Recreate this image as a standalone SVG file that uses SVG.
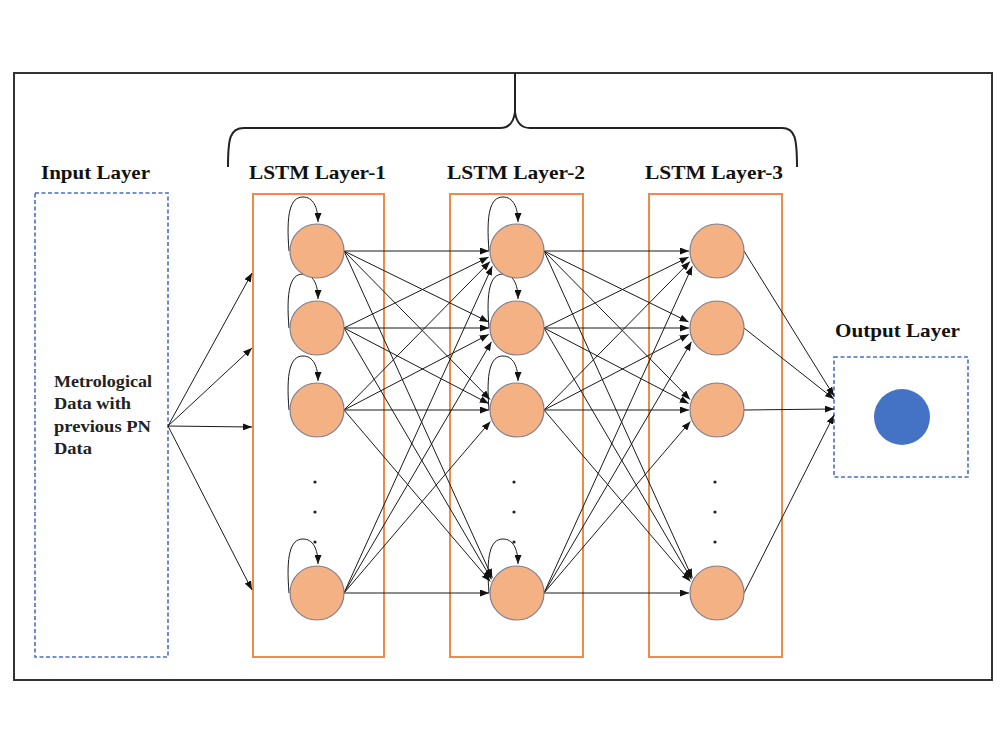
<svg xmlns="http://www.w3.org/2000/svg" width="1000" height="750" viewBox="0 0 1000 750">
<defs>
<marker id="ah" markerUnits="userSpaceOnUse" markerWidth="9" markerHeight="7" refX="9" refY="3.5" orient="auto">
<path d="M0,0 L9,3.5 L0,7 z" fill="#111"/>
</marker>
<style>
.lbl{font-family:"Liberation Serif","Times New Roman",serif;font-weight:bold;font-size:19px;fill:#111}
.txt{font-family:"Liberation Serif","Times New Roman",serif;font-weight:bold;font-size:16px;fill:#222}
.dash{fill:none;stroke:#4a6fc0;stroke-width:1.6;stroke-dasharray:4 2.5}
.layer{fill:none;stroke:#ed8b4a;stroke-width:2}
.node{fill:#f4b183;stroke:#7f7f8f;stroke-width:1.2}
.c{stroke:#1a1a1a;stroke-width:1;fill:none;marker-end:url(#ah)}
.dot{fill:#222}
</style>
</defs>
<rect width="1000" height="750" fill="#fff"/>
<rect x="14" y="73" width="978" height="607" fill="none" stroke="#333" stroke-width="2"/>
<g id="brace">
<path d="M228,167 C228,138 230,128 244,128 L500,128 Q513,128 515,112 L515,73 M515,112 Q517,128 530,128 L782,128 C795,128 797,138 797,167" fill="none" stroke="#222" stroke-width="2"/>
</g>
<g id="input-layer">
<text class="lbl" x="41" y="179" textLength="109" lengthAdjust="spacingAndGlyphs">Input Layer</text>
<rect class="dash" x="35" y="193" width="133" height="464"/>
<text class="txt" x="54" y="387" textLength="98" lengthAdjust="spacingAndGlyphs">Metrological</text>
<text class="txt" x="54" y="409" textLength="77" lengthAdjust="spacingAndGlyphs">Data with</text>
<text class="txt" x="54" y="432" textLength="97" lengthAdjust="spacingAndGlyphs">previous PN</text>
<text class="txt" x="54" y="454" textLength="38" lengthAdjust="spacingAndGlyphs">Data</text>
</g>
<g id="lstm-layer-1">
<text class="lbl" x="249" y="179" textLength="137" lengthAdjust="spacingAndGlyphs">LSTM Layer-1</text>
<rect class="layer" x="253" y="194" width="131" height="463"/>
</g>
<g id="lstm-layer-2">
<text class="lbl" x="447" y="179" textLength="138" lengthAdjust="spacingAndGlyphs">LSTM Layer-2</text>
<rect class="layer" x="450" y="194" width="133" height="463"/>
</g>
<g id="lstm-layer-3">
<text class="lbl" x="645" y="179" textLength="138" lengthAdjust="spacingAndGlyphs">LSTM Layer-3</text>
<rect class="layer" x="649" y="194" width="133" height="463"/>
</g>
<g id="output-layer">
<text class="lbl" x="835" y="337" textLength="125" lengthAdjust="spacingAndGlyphs">Output Layer</text>
<rect class="dash" x="834" y="357" width="134" height="120"/>
</g>
<g id="connectors">
<!-- input to L1 -->
<line class="c" x1="168" y1="426" x2="252" y2="273"/>
<line class="c" x1="168" y1="426" x2="252" y2="348"/>
<line class="c" x1="168" y1="426" x2="252" y2="427"/>
<line class="c" x1="168" y1="426" x2="252" y2="590"/>
<!-- self loops L1 -->
<path class="c" d="M289,251 C286,214 290,197 303,197 C313,197 318,207 318,222"/>
<path class="c" d="M289,328 C286,291 290,274 303,274 C313,274 318,284 318,299"/>
<path class="c" d="M289,410 C286,373 290,356 303,356 C313,356 318,366 318,381"/>
<path class="c" d="M289,593 C286,556 290,539 303,539 C313,539 318,549 318,564"/>
<!-- self loops L2 -->
<path class="c" d="M489,251 C486,214 490,197 503,197 C513,197 518,207 518,222"/>
<path class="c" d="M489,328 C486,291 490,274 503,274 C513,274 518,284 518,299"/>
<path class="c" d="M489,410 C486,373 490,356 503,356 C513,356 518,366 518,381"/>
<path class="c" d="M489,593 C486,556 490,539 503,539 C513,539 518,549 518,564"/>
<!-- L1 to L2 -->
<line class="c" x1="344" y1="251" x2="489" y2="251"/>
<line class="c" x1="344" y1="251" x2="488.6" y2="321.9"/>
<line class="c" x1="344" y1="251" x2="490" y2="399.4"/>
<line class="c" x1="344" y1="251" x2="492.3" y2="577.8"/>
<line class="c" x1="344" y1="328" x2="488.6" y2="257.1"/>
<line class="c" x1="344" y1="328" x2="489" y2="328"/>
<line class="c" x1="344" y1="328" x2="488.7" y2="403.6"/>
<line class="c" x1="344" y1="328" x2="491.5" y2="579.2"/>
<line class="c" x1="344" y1="410" x2="490" y2="261.6"/>
<line class="c" x1="344" y1="410" x2="488.7" y2="334.4"/>
<line class="c" x1="344" y1="410" x2="489" y2="410"/>
<line class="c" x1="344" y1="410" x2="490.4" y2="581.5"/>
<line class="c" x1="344" y1="593" x2="492.3" y2="266.2"/>
<line class="c" x1="344" y1="593" x2="491.5" y2="341.8"/>
<line class="c" x1="344" y1="593" x2="490.4" y2="421.5"/>
<line class="c" x1="344" y1="593" x2="489" y2="593"/>
<!-- L2 to L3 -->
<line class="c" x1="544" y1="251" x2="689" y2="251"/>
<line class="c" x1="544" y1="251" x2="688.6" y2="321.9"/>
<line class="c" x1="544" y1="251" x2="690" y2="399.4"/>
<line class="c" x1="544" y1="251" x2="692.3" y2="577.8"/>
<line class="c" x1="544" y1="328" x2="688.6" y2="257.1"/>
<line class="c" x1="544" y1="328" x2="689" y2="328"/>
<line class="c" x1="544" y1="328" x2="688.7" y2="403.6"/>
<line class="c" x1="544" y1="328" x2="691.5" y2="579.2"/>
<line class="c" x1="544" y1="410" x2="690" y2="261.6"/>
<line class="c" x1="544" y1="410" x2="688.7" y2="334.4"/>
<line class="c" x1="544" y1="410" x2="689" y2="410"/>
<line class="c" x1="544" y1="410" x2="690.4" y2="581.5"/>
<line class="c" x1="544" y1="593" x2="692.3" y2="266.2"/>
<line class="c" x1="544" y1="593" x2="691.5" y2="341.8"/>
<line class="c" x1="544" y1="593" x2="690.4" y2="421.5"/>
<line class="c" x1="544" y1="593" x2="689" y2="593"/>
<!-- L3 to output -->
<line class="c" x1="744" y1="251" x2="834" y2="396"/>
<line class="c" x1="744" y1="328" x2="834" y2="399"/>
<line class="c" x1="744" y1="410" x2="834" y2="409"/>
<line class="c" x1="744" y1="593" x2="834" y2="415"/>
</g>
<g id="l1-nodes">
<circle class="node" cx="317" cy="251" r="27"/>
<circle class="node" cx="317" cy="328" r="27"/>
<circle class="node" cx="317" cy="410" r="27"/>
<circle class="node" cx="317" cy="593" r="27"/>
<circle class="dot" cx="315" cy="482" r="1.6"/>
<circle class="dot" cx="315" cy="512" r="1.6"/>
<circle class="dot" cx="315" cy="542" r="1.6"/>
</g>
<g id="l2-nodes">
<circle class="node" cx="517" cy="251" r="27"/>
<circle class="node" cx="517" cy="328" r="27"/>
<circle class="node" cx="517" cy="410" r="27"/>
<circle class="node" cx="517" cy="593" r="27"/>
<circle class="dot" cx="514" cy="482" r="1.6"/>
<circle class="dot" cx="514" cy="512" r="1.6"/>
<circle class="dot" cx="514" cy="542" r="1.6"/>
</g>
<g id="l3-nodes">
<circle class="node" cx="717" cy="251" r="27"/>
<circle class="node" cx="717" cy="328" r="27"/>
<circle class="node" cx="717" cy="410" r="27"/>
<circle class="node" cx="717" cy="593" r="27"/>
<circle class="dot" cx="715" cy="482" r="1.6"/>
<circle class="dot" cx="715" cy="512" r="1.6"/>
<circle class="dot" cx="715" cy="542" r="1.6"/>
</g>
<g id="output-node">
<circle cx="902" cy="417" r="28" fill="#4472c4"/>
</g>
</svg>
